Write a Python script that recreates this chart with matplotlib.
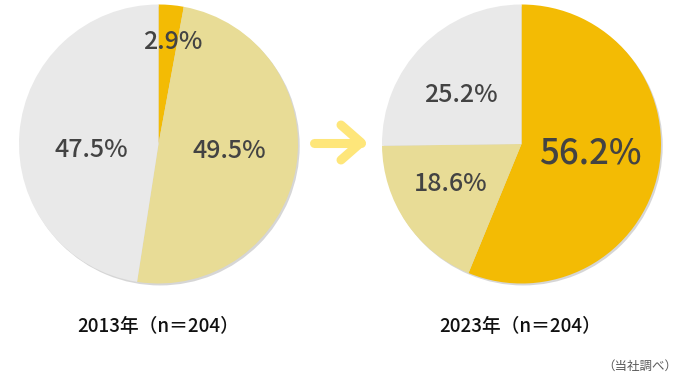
import matplotlib
matplotlib.use("Agg")
import matplotlib.pyplot as plt

plt.rcParams['font.family'] = ['Noto Sans CJK JP', 'DejaVu Sans']

# data
categories = ["orange", "light", "gray"]
values_2013 = [2.9, 49.5, 47.5]
values_2023 = [56.2, 18.6, 25.2]
titles = ["2013年（n＝204）", "2023年（n＝204）"]
note = "（当社調べ）"

colors = ["#F3BB04", "#E8DC96", "#E9E9E9"]
text_color = "#434343"

fig = plt.figure(figsize=(6.8, 3.76), dpi=100)
W, H = 680, 376

def add_pie(cx, cy, r, values, label_pos, label_sizes):
    ax = fig.add_axes([(cx - r) / W, (H - cy - r) / H, 2 * r / W, 2 * r / H])
    # subtle shadow
    sh, _ = ax.pie([1], radius=1.0, colors=["#d6d6d6"], startangle=90, center=(0.012, -0.014),
                   wedgeprops=dict(linewidth=0))
    for s in sh:
        s.set_clip_on(False)
    wedges, _ = ax.pie(values, colors=colors, startangle=90, counterclock=False,
                       wedgeprops=dict(linewidth=0))
    for v, (lx, ly), fs in zip(values, label_pos, label_sizes):
        cap = fs / 72 * 100 * 0.73
        ax.text((lx - cx) / r, (cy - ly - cap / 2) / r, f"{v:.1f}%", ha="center", va="baseline",
                fontsize=fs, color=text_color, fontweight="medium")
    ax.set_xlim(-1, 1)
    ax.set_ylim(-1, 1)
    ax.set_aspect("equal")
    ax.axis("off")
    return ax

add_pie(158.5, 144, 139.5, values_2013, [(173, 40), (229, 149), (91, 148)], [18, 18, 18])
add_pie(521.5, 144, 139.5, values_2023, [(590, 151), (451, 182), (461, 93)], [25, 18, 18])

# arrow
ov = fig.add_axes([0, 0, 1, 1])
ov.set_xlim(0, W)
ov.set_ylim(H, 0)
ov.axis("off")
ov.patch.set_alpha(0)
arrow_color = "#FEE67A"
ov.plot([314, 361], [142.5, 142.5], color=arrow_color, lw=6.5, solid_capstyle="round")
ov.plot([341, 361, 341], [125, 142.5, 160], color=arrow_color, lw=6.5,
        solid_capstyle="round", solid_joinstyle="round")

fig.text(158 / W, 1 - 326 / H, titles[0], ha="center", va="center", fontsize=13.5,
         color="#111111", fontweight="medium")
fig.text(520 / W, 1 - 326 / H, titles[1], ha="center", va="center", fontsize=13.5,
         color="#111111", fontweight="medium")
fig.text(677 / W, 1 - 366 / H, note, ha="right", va="center", fontsize=9, color="#5a5a5a")

fig.savefig("out.png", dpi=100, facecolor="white")
